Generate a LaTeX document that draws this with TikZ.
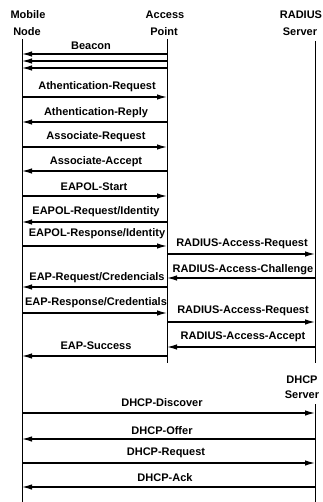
\documentclass[tikz,border=0pt]{standalone}
\usepackage{fontspec}
\setmainfont{Liberation Sans}
\usetikzlibrary{arrows.meta}
\begin{document}
\begin{tikzpicture}[x=1pt,y=-1pt,
  lbl/.style={font=\bfseries\fontsize{11}{12}\selectfont, inner sep=0pt},
  hdr/.style={font=\bfseries\fontsize{11}{12}\selectfont, inner sep=0pt, align=center},
  life/.style={line width=0.9pt},
  msg/.style={line width=1.3pt, -{Latex[length=10pt,width=5.5pt]}}]
\fill[white] (0,0) rectangle (322,502);
\useasboundingbox (0,0) rectangle (322,502);

% headers
\node[hdr] (hmn1) at (28,15) {Mobile};
\node[hdr] (hmn2) at (27,32) {Node};
\node[hdr] (hap1) at (165,15) {Access};
\node[hdr] (hap2) at (164,32) {Point};
\node[hdr] (hrs1) at (301,15) {RADIUS};
\node[hdr] (hrs2) at (300,32) {Server};
\node[hdr] (hds1) at (302,380) {DHCP};
\node[hdr] (hds2) at (302,395) {Server};

% lifelines
\coordinate (mnT) at (22,39);  \coordinate (mnB) at (22,502);
\coordinate (apT) at (167,39); \coordinate (apB) at (167,363);
\coordinate (rsT) at (315,41); \coordinate (rsB) at (315,363);
\coordinate (dsT) at (315,404); \coordinate (dsB) at (315,502);
\draw[life] (mnT) -- (mnB);
\draw[life] (apT) -- (apB);
\draw[life] (rsT) -- (rsB);
\draw[life] (dsT) -- (dsB);

% association phase
\node[lbl] (l1) at (91,46) {Beacon};
\draw[msg] (apT |- 0,54) -- (mnT |- 0,54);
\draw[msg] (apT |- 0,61) -- (mnT |- 0,61);
\draw[msg] (apT |- 0,68) -- (mnT |- 0,68);
\node[lbl] (l2) at (97,87) {Athentication-Request};
\draw[msg] (mnT |- 0,97) -- (apT |- 0,97);
\node[lbl] (l3) at (96,113) {Athentication-Reply};
\draw[msg] (apT |- 0,122) -- (mnT |- 0,122);
\node[lbl] (l4) at (96,137) {Associate-Request};
\draw[msg] (mnT |- 0,147) -- (apT |- 0,147);
\node[lbl] (l5) at (96,162) {Associate-Accept};
\draw[msg] (apT |- 0,171) -- (mnT |- 0,171);

% EAP authentication
\node[lbl] (l6) at (94,187) {EAPOL-Start};
\draw[msg] (mnT |- 0,196) -- (apT |- 0,196);
\node[lbl] (l7) at (96,212) {EAPOL-Request/Identity};
\draw[msg] (apT |- 0,222) -- (mnT |- 0,222);
\node[lbl] (l8) at (97,234) {EAPOL-Response/Identity};
\draw[msg] (mnT |- 0,246) -- (apT |- 0,246);
\node[lbl] (l9) at (242,244) {RADIUS-Access-Request};
\draw[msg] (apT |- 0,254) -- (rsT |- 0,254);
\node[lbl] (l10) at (243,270) {RADIUS-Access-Challenge};
\draw[msg] (rsT |- 0,278) -- (apT |- 0,278);
\node[lbl] (l11) at (97,278) {EAP-Request/Credencials};
\draw[msg] (apT |- 0,287) -- (mnT |- 0,287);
\node[lbl] (l12) at (96,303) {EAP-Response/Credentials};
\draw[msg] (mnT |- 0,313) -- (apT |- 0,313);
\node[lbl] (l13) at (243,311) {RADIUS-Access-Request};
\draw[msg] (apT |- 0,322) -- (rsT |- 0,322);
\node[lbl] (l14) at (243,337) {RADIUS-Access-Accept};
\draw[msg] (rsT |- 0,347) -- (apT |- 0,347);
\node[lbl] (l15) at (96,346) {EAP-Success};
\draw[msg] (apT |- 0,356) -- (mnT |- 0,356);

% DHCP exchange
\node[lbl] (l16) at (162,403) {DHCP-Discover};
\draw[msg] (mnT |- 0,413) -- (dsT |- 0,413);
\node[lbl] (l17) at (162,431) {DHCP-Offer};
\draw[msg] (dsT |- 0,439) -- (mnT |- 0,439);
\node[lbl] (l18) at (166,453) {DHCP-Request};
\draw[msg] (mnT |- 0,463) -- (dsT |- 0,463);
\node[lbl] (l19) at (165,478) {DHCP-Ack};
\draw[msg] (dsT |- 0,487) -- (mnT |- 0,487);
\end{tikzpicture}
\end{document}
